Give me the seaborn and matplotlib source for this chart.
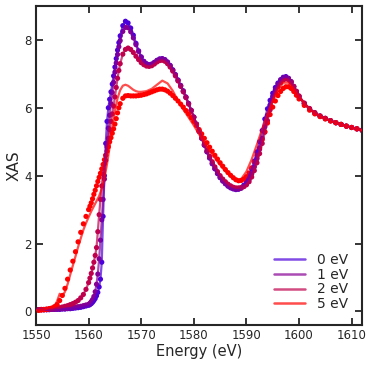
import matplotlib
matplotlib.use('Agg')
import matplotlib.pyplot as plt
import seaborn as sns
import numpy as np
import pandas as pd

# energy grid of the spectra (eV)
energy = np.concatenate([
    np.arange(1550.0, 1560.0, 0.5),
    np.arange(1560.0, 1566.0, 0.25),
    np.arange(1566.0, 1600.0, 0.5),
    np.arange(1600.0, 1613.0, 1.0),
])

xas_0ev = [
    0.05, 0.05, 0.05, 0.05, 0.05, 0.05, 0.06, 0.06, 0.06, 0.06,
    0.07, 0.07, 0.08, 0.08, 0.09, 0.10, 0.11, 0.12, 0.14, 0.16,
    0.18, 0.20, 0.23, 0.27, 0.32, 0.38, 0.46, 0.56, 0.72, 0.95, 1.45, 2.80,
    4.00, 4.95, 5.60, 6.00, 6.25, 6.47, 6.70, 6.94, 7.20, 7.45, 7.70, 7.92,
    8.12, 8.42, 8.55, 8.50, 8.35, 8.14, 7.90, 7.68, 7.50, 7.37,
    7.30, 7.27, 7.29, 7.34, 7.40, 7.44, 7.45, 7.42, 7.35, 7.25,
    7.12, 6.98, 6.82, 6.66, 6.50, 6.32, 6.13, 5.93, 5.73, 5.52,
    5.31, 5.10, 4.90, 4.70, 4.52, 4.35, 4.20, 4.06, 3.94, 3.84,
    3.76, 3.69, 3.64, 3.61, 3.59, 3.60, 3.64, 3.72, 3.85, 4.00,
    4.20, 4.43, 4.70, 5.00, 5.33, 5.67, 5.97, 6.22, 6.43, 6.60,
    6.73, 6.83, 6.90, 6.92, 6.87, 6.77, 6.62, 6.47,
    6.33, 6.12, 5.96, 5.84, 5.75, 5.68, 5.62, 5.56, 5.51, 5.46, 5.42, 5.38, 5.34,
]

xas_1ev = [
    0.05, 0.05, 0.05, 0.05, 0.05, 0.06, 0.06, 0.06, 0.07, 0.07,
    0.08, 0.08, 0.09, 0.10, 0.11, 0.12, 0.14, 0.15, 0.17, 0.19,
    0.21, 0.24, 0.29, 0.35, 0.44, 0.58, 0.80, 1.10, 1.55, 2.10, 2.70, 3.30,
    3.90, 4.45, 4.95, 5.40, 5.78, 6.12, 6.45, 6.75, 7.05, 7.32, 7.57, 7.80,
    7.98, 8.25, 8.37, 8.36, 8.24, 8.06, 7.86, 7.66, 7.49, 7.36,
    7.29, 7.26, 7.28, 7.33, 7.39, 7.43, 7.44, 7.41, 7.34, 7.24,
    7.11, 6.97, 6.81, 6.65, 6.49, 6.31, 6.12, 5.92, 5.72, 5.51,
    5.30, 5.10, 4.90, 4.71, 4.53, 4.36, 4.21, 4.07, 3.95, 3.85,
    3.77, 3.70, 3.65, 3.62, 3.60, 3.61, 3.63, 3.68, 3.76, 3.88,
    4.05, 4.26, 4.50, 4.78, 5.10, 5.44, 5.78, 6.08, 6.34, 6.54,
    6.70, 6.81, 6.88, 6.90, 6.86, 6.77, 6.63, 6.48,
    6.34, 6.13, 5.97, 5.85, 5.76, 5.69, 5.62, 5.56, 5.51, 5.46, 5.42, 5.38, 5.34,
]

xas_2ev = [
    0.05, 0.05, 0.06, 0.06, 0.07, 0.07, 0.08, 0.09, 0.10, 0.11,
    0.13, 0.15, 0.17, 0.20, 0.23, 0.27, 0.32, 0.40, 0.50, 0.65,
    0.85, 0.98, 1.12, 1.28, 1.45, 1.65, 1.88, 2.35, 2.85, 3.30, 3.70, 4.05,
    4.35, 4.60, 4.85, 5.10, 5.35, 5.60, 5.82, 6.05, 6.32, 6.60, 6.87, 7.10,
    7.30, 7.58, 7.72, 7.76, 7.72, 7.63, 7.52, 7.42, 7.33, 7.27,
    7.23, 7.22, 7.24, 7.29, 7.35, 7.39, 7.40, 7.37, 7.30, 7.20,
    7.08, 6.94, 6.79, 6.63, 6.47, 6.30, 6.11, 5.92, 5.72, 5.52,
    5.32, 5.12, 4.93, 4.74, 4.57, 4.41, 4.26, 4.12, 4.00, 3.90,
    3.82, 3.75, 3.70, 3.66, 3.64, 3.64, 3.65, 3.68, 3.73, 3.82,
    3.96, 4.15, 4.38, 4.65, 4.95, 5.28, 5.62, 5.94, 6.22, 6.45,
    6.62, 6.74, 6.82, 6.85, 6.83, 6.75, 6.63, 6.49,
    6.35, 6.14, 5.98, 5.86, 5.76, 5.69, 5.62, 5.56, 5.51, 5.46, 5.42, 5.38, 5.34,
]

xas_5ev = [
    0.03, 0.03, 0.04, 0.05, 0.06, 0.08, 0.10, 0.14, 0.20, 0.32,
    0.47, 0.68, 0.95, 1.22, 1.48, 1.76, 2.05, 2.33, 2.58, 2.80,
    3.00, 3.10, 3.20, 3.32, 3.45, 3.57, 3.70, 3.83, 3.95, 4.07, 4.20, 4.33,
    4.47, 4.60, 4.72, 4.85, 5.00, 5.12, 5.25, 5.38, 5.52, 5.68, 5.85, 6.00,
    6.12, 6.28, 6.35, 6.36, 6.35, 6.35, 6.35, 6.36, 6.37, 6.39,
    6.41, 6.44, 6.47, 6.50, 6.53, 6.55, 6.55, 6.53, 6.49, 6.43,
    6.36, 6.28, 6.20, 6.11, 6.02, 5.92, 5.82, 5.71, 5.60, 5.48,
    5.36, 5.23, 5.10, 4.97, 4.84, 4.72, 4.60, 4.49, 4.38, 4.28,
    4.18, 4.09, 4.01, 3.94, 3.88, 3.85, 3.86, 3.90, 3.97, 4.08,
    4.23, 4.40, 4.60, 4.82, 5.06, 5.30, 5.55, 5.80, 6.02, 6.20,
    6.36, 6.48, 6.57, 6.62, 6.62, 6.57, 6.48, 6.37,
    6.26, 6.07, 5.93, 5.82, 5.74, 5.67, 5.61, 5.56, 5.51, 5.46, 5.42, 5.38, 5.34,
]

# the 5 eV curve drawn as a line differs from its markers
fit_energy_5ev = np.concatenate([np.arange(1550.0, 1570.0, 0.5), np.arange(1570.0, 1613.0, 1.0)])
fit_5ev = [
    0.03, 0.03, 0.04, 0.05, 0.08, 0.12, 0.10, 0.14, 0.30, 0.52,
    0.45, 0.58, 0.80, 1.08, 1.35, 1.62, 1.90, 2.15, 2.40, 2.60,
    2.78, 2.95, 3.10, 3.25, 3.40, 3.62, 3.92, 4.35, 4.85, 5.40,
    5.90, 6.28, 6.52, 6.65, 6.68, 6.65, 6.59, 6.53, 6.49, 6.47,
    6.47, 6.49, 6.56, 6.68, 6.80, 6.72, 6.50, 6.20, 5.95, 5.72,
    5.48, 5.22, 4.98, 4.74, 4.52, 4.32, 4.13, 3.98, 3.85, 3.90,
    4.12, 4.48, 4.92, 5.38, 5.82, 6.20, 6.52, 6.74, 6.74, 6.56,
    6.33, 6.12, 5.96, 5.84, 5.75, 5.68, 5.61, 5.56, 5.51, 5.46,
    5.42, 5.38, 5.34,
]

labels = ['0 eV', '1 eV', '2 eV', '5 eV']
colors = ['#4c00db', '#860094', '#bf004c', '#ff0000']

markers = pd.concat([
    pd.DataFrame({'energy': energy, 'xas': vals, 'shift': lab})
    for vals, lab in zip([xas_0ev, xas_1ev, xas_2ev, xas_5ev], labels)
], ignore_index=True)

lines = pd.concat([
    pd.DataFrame({'energy': energy, 'xas': xas_0ev, 'shift': '0 eV'}),
    pd.DataFrame({'energy': energy, 'xas': xas_1ev, 'shift': '1 eV'}),
    pd.DataFrame({'energy': energy, 'xas': xas_2ev, 'shift': '2 eV'}),
    pd.DataFrame({'energy': fit_energy_5ev, 'xas': fit_5ev, 'shift': '5 eV'}),
], ignore_index=True)

sns.set_style('ticks')
plt.rcParams['font.family'] = ['DejaVu Sans']

fig = plt.figure(figsize=(3.74, 3.65), dpi=100)
ax = fig.add_axes([0.0963, 0.1096, 0.872, 0.874])

palette = dict(zip(labels, colors))
sns.scatterplot(data=markers, x='energy', y='xas', hue='shift', palette=palette,
                s=14, linewidth=0, legend=False, ax=ax, zorder=2)
sns.lineplot(data=lines, x='energy', y='xas', hue='shift', palette=palette,
             sort=False, estimator=None, lw=1.6, alpha=0.7, ax=ax, zorder=3)

ax.set_xlim(1550, 1612)
ax.set_ylim(-0.4, 9.0)
ax.set_xticks([1550, 1560, 1570, 1580, 1590, 1600, 1610])
ax.set_yticks([0, 2, 4, 6, 8])
ax.set_xlabel('Energy (eV)', fontsize=10.5, labelpad=1)
ax.set_ylabel('XAS', fontsize=11, labelpad=2)
ax.tick_params(direction='in', top=True, right=True, length=5, width=1.3,
               labelsize=8.5, pad=3)
for sp in ax.spines.values():
    sp.set_linewidth(1.5)

leg = ax.legend(loc='lower right', frameon=False, fontsize=10, handlelength=2.2,
                labelspacing=0.05, borderaxespad=0.6, handletextpad=0.9)
for h in leg.get_lines():
    h.set_linewidth(1.8)

fig.savefig('out.png', dpi=100)
